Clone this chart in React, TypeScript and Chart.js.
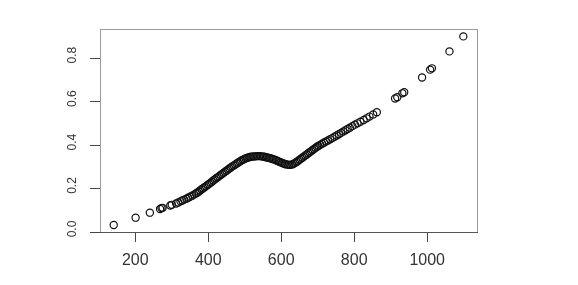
import React, { useEffect, useRef } from "react";
import { Chart, registerables } from "chart.js";

Chart.register(...registerables);

const xValues: number[] = [
  141, 201, 240, 268, 272, 275, 296, 300, 312, 318, 324, 329, 334, 340, 345, 350, 356, 361, 366, 370,
  374, 378, 382, 386, 390, 394, 398, 402, 406, 410, 414, 418, 422, 426, 430, 434, 438, 442, 446, 450,
  454, 458, 462, 466, 470, 474, 478, 482, 486, 490, 494, 498, 502, 506, 510, 514, 518, 522, 526, 530,
  534, 538, 542, 546, 550, 554, 558, 562, 566, 570, 574, 578, 582, 586, 590, 594, 598, 602, 606, 610,
  614, 618, 622, 626, 630, 634, 638, 642, 646, 650, 654, 658, 662, 666, 670, 674, 678, 682, 686, 690,
  694, 698, 702, 707, 712, 717, 722, 728, 734, 740, 746, 752, 758, 764, 770, 776, 782, 788, 795, 802,
  809, 817, 826, 834, 842, 852, 862, 912, 918, 932, 937, 986, 1008, 1013, 1061, 1099,
];

const yValues: number[] = [
  0.032, 0.066, 0.089, 0.106, 0.11, 0.111, 0.122, 0.125, 0.131, 0.136, 0.141, 0.145, 0.149, 0.153, 0.158, 0.162, 0.167, 0.172, 0.177, 0.181,
  0.186, 0.191, 0.197, 0.201, 0.206, 0.211, 0.216, 0.221, 0.226, 0.231, 0.237, 0.242, 0.247, 0.252, 0.257, 0.262, 0.267, 0.272, 0.277, 0.282,
  0.287, 0.292, 0.297, 0.302, 0.306, 0.31, 0.315, 0.319, 0.324, 0.328, 0.332, 0.335, 0.338, 0.341, 0.343, 0.345, 0.346, 0.347, 0.348, 0.348,
  0.349, 0.349, 0.349, 0.348, 0.347, 0.346, 0.344, 0.343, 0.341, 0.339, 0.337, 0.335, 0.333, 0.33, 0.327, 0.324, 0.321, 0.318, 0.315, 0.313,
  0.311, 0.31, 0.309, 0.309, 0.311, 0.314, 0.318, 0.322, 0.327, 0.332, 0.337, 0.342, 0.347, 0.352, 0.357, 0.362, 0.367, 0.372, 0.377, 0.382,
  0.387, 0.392, 0.396, 0.401, 0.406, 0.411, 0.416, 0.421, 0.427, 0.432, 0.438, 0.444, 0.45, 0.456, 0.462, 0.468, 0.474, 0.48, 0.487, 0.494,
  0.5, 0.507, 0.515, 0.523, 0.531, 0.541, 0.551, 0.614, 0.62, 0.638, 0.643, 0.711, 0.747, 0.753, 0.831, 0.9,
];

const xTickValues: number[] = [200, 400, 600, 800, 1000];
const yTickValues: number[] = [0, 0.2, 0.4, 0.6, 0.8];
const yTickLabels: string[] = ["0.0", "0.2", "0.4", "0.6", "0.8"];

const X_MIN = 103.4;
const X_MAX = 1136.5;
const Y_MIN = 0;
const Y_MAX = 0.934;

const boxPlugin = {
  id: "rBox",
  afterDraw(chart: any) {
    const { ctx, chartArea } = chart;
    const { left, right, top, bottom } = chartArea;
    ctx.save();
    ctx.lineWidth = 1;
    ctx.strokeStyle = "#9a9a9a";
    ctx.strokeRect(left + 0.5, top + 0.5, right - left, bottom - top);
    ctx.strokeStyle = "#555";
    ctx.beginPath();
    ctx.moveTo(left, bottom + 0.5);
    ctx.lineTo(right + 1, bottom + 0.5);
    ctx.stroke();
    const yScale = chart.scales.y;
    ctx.fillStyle = "#333";
    ctx.font = '12px "Liberation Sans", Arial, sans-serif';
    ctx.textAlign = "center";
    ctx.textBaseline = "middle";
    yTickValues.forEach((v, i) => {
      const py = yScale.getPixelForValue(v) - 3;
      ctx.save();
      ctx.translate(73, py);
      ctx.rotate(-Math.PI / 2);
      ctx.fillText(yTickLabels[i], 0, 0);
      ctx.restore();
    });
    ctx.restore();
  },
};

export default function App() {
  const canvasRef = useRef<HTMLCanvasElement | null>(null);

  useEffect(() => {
    const canvas = canvasRef.current;
    if (!canvas) return;
    const points = xValues.map((x, i) => ({ x, y: yValues[i] }));
    const chart = new Chart(canvas, {
      type: "scatter",
      data: {
        datasets: [
          {
            data: points,
            pointStyle: "circle",
            pointRadius: 3.6,
            pointBorderWidth: 1.2,
            pointBorderColor: "#111",
            pointBackgroundColor: "rgba(0,0,0,0)",
            showLine: false,
          },
        ],
      },
      options: {
        responsive: false,
        animation: false,
        devicePixelRatio: 1,
        clip: false as any,
        layout: { padding: { top: 29, right: 101, left: 0, bottom: 0 } },
        plugins: {
          legend: { display: false },
          tooltip: { enabled: false },
        },
        scales: {
          x: {
            type: "linear",
            min: X_MIN,
            max: X_MAX,
            afterBuildTicks: (scale: any) => {
              scale.ticks = xTickValues.map((v) => ({ value: v }));
            },
            afterFit: (scale: any) => {
              scale.height = 53;
            },
            grid: {
              drawOnChartArea: false,
              drawTicks: true,
              tickLength: 10,
              color: "#444",
            },
            border: { display: false },
            ticks: {
              maxRotation: 0,
              minRotation: 0,
              padding: 9,
              color: "#333",
              font: { family: '"Liberation Sans", Arial, sans-serif', size: 16 },
              callback: (v: any) => String(v),
            },
          },
          y: {
            type: "linear",
            min: Y_MIN,
            max: Y_MAX,
            afterBuildTicks: (scale: any) => {
              scale.ticks = yTickValues.map((v) => ({ value: v }));
            },
            afterFit: (scale: any) => {
              scale.width = 100;
            },
            grid: {
              drawOnChartArea: false,
              drawTicks: true,
              tickLength: 10,
              color: "#444",
            },
            border: { display: false },
            ticks: {
              color: "rgba(0,0,0,0)",
              font: { size: 12 },
            },
          },
        },
      },
      plugins: [boxPlugin],
    });
    return () => chart.destroy();
  }, []);

  return (
    <div style={{ position: "fixed", left: 0, top: 0, width: 578, height: 285, background: "#fff" }}>
      <canvas ref={canvasRef} width={578} height={285} style={{ width: 578, height: 285 }} />
    </div>
  );
}
